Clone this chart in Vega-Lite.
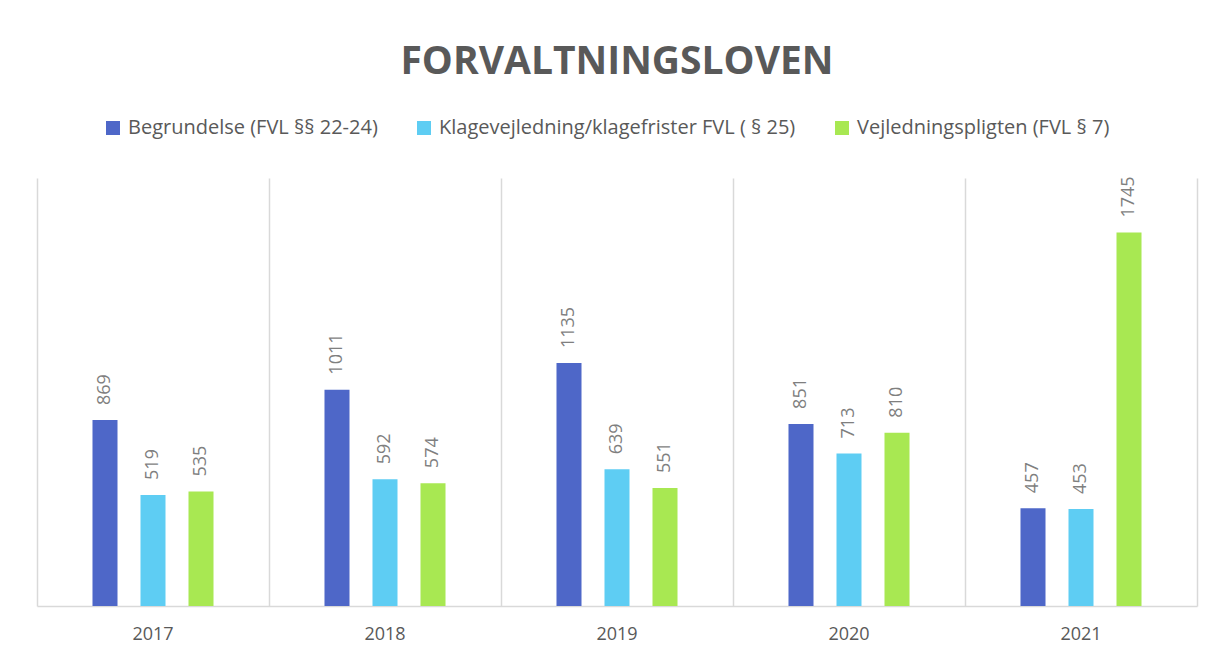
{
  "$schema": "https://vega.github.io/schema/vega-lite/v6.json",
  "width": 1160,
  "height": 428,
  "autosize": {"type": "none"},
  "padding": {"left": 37, "top": 178, "right": 19, "bottom": 51},
  "background": "white",
  "title": {
    "text": "FORVALTNINGSLOVEN",
    "anchor": "middle",
    "font": "Open Sans",
    "fontSize": 39,
    "fontWeight": "bold",
    "color": "#595959",
    "offset": 36
  },
  "data": {
    "values": [
      {"year": "2017", "serie": "Begrundelse (FVL §§ 22-24)", "value": 869},
      {"year": "2017", "serie": "Klagevejledning/klagefrister FVL ( § 25)", "value": 519},
      {"year": "2017", "serie": "Vejledningspligten (FVL § 7)", "value": 535},
      {"year": "2018", "serie": "Begrundelse (FVL §§ 22-24)", "value": 1011},
      {"year": "2018", "serie": "Klagevejledning/klagefrister FVL ( § 25)", "value": 592},
      {"year": "2018", "serie": "Vejledningspligten (FVL § 7)", "value": 574},
      {"year": "2019", "serie": "Begrundelse (FVL §§ 22-24)", "value": 1135},
      {"year": "2019", "serie": "Klagevejledning/klagefrister FVL ( § 25)", "value": 639},
      {"year": "2019", "serie": "Vejledningspligten (FVL § 7)", "value": 551},
      {"year": "2020", "serie": "Begrundelse (FVL §§ 22-24)", "value": 851},
      {"year": "2020", "serie": "Klagevejledning/klagefrister FVL ( § 25)", "value": 713},
      {"year": "2020", "serie": "Vejledningspligten (FVL § 7)", "value": 810},
      {"year": "2021", "serie": "Begrundelse (FVL §§ 22-24)", "value": 457},
      {"year": "2021", "serie": "Klagevejledning/klagefrister FVL ( § 25)", "value": 453},
      {"year": "2021", "serie": "Vejledningspligten (FVL § 7)", "value": 1745}
    ]
  },
  "encoding": {
    "x": {
      "field": "year",
      "type": "nominal",
      "scale": {"paddingInner": 0, "paddingOuter": 0},
      "axis": {
        "title": null,
        "labelAngle": 0,
        "labelFont": "Open Sans",
        "labelFontSize": 18,
        "labelColor": "#595959",
        "labelPadding": 19,
        "ticks": false,
        "domain": true,
        "domainColor": "#d9d9d9",
        "domainWidth": 1.5,
        "grid": true,
        "gridColor": "#d9d9d9",
        "gridWidth": 1.5,
        "bandPosition": 0
      }
    },
    "xOffset": {
      "field": "serie",
      "type": "nominal",
      "scale": {
        "domain": ["_pre", "Begrundelse (FVL §§ 22-24)", "Klagevejledning/klagefrister FVL ( § 25)", "Vejledningspligten (FVL § 7)", "_post"],
        "paddingInner": 0.479,
        "paddingOuter": 0.156
      }
    },
    "y": {
      "field": "value",
      "type": "quantitative",
      "scale": {"domain": [0, 2000], "nice": false}
    }
  },
  "layer": [
    {
      "mark": {"type": "bar"},
      "encoding": {
        "y": {
          "field": "value",
          "type": "quantitative",
          "scale": {"domain": [0, 2000], "nice": false},
          "axis": null
        },
        "color": {
          "field": "serie",
          "type": "nominal",
          "scale": {
            "domain": ["Begrundelse (FVL §§ 22-24)", "Klagevejledning/klagefrister FVL ( § 25)", "Vejledningspligten (FVL § 7)"],
            "range": ["#4e67c8", "#5ecdf3", "#a8e852"]
          },
          "legend": {
            "title": null,
            "orient": "none",
            "direction": "horizontal",
            "legendX": 66,
            "legendY": -60,
            "padding": 0,
            "symbolType": "square",
            "symbolSize": 196,
            "symbolStrokeWidth": 0,
            "symbolOpacity": 1,
            "labelFont": "Open Sans",
            "labelFontSize": 20,
            "labelColor": "#595959",
            "labelOffset": 5,
            "columnPadding": 36,
            "labelLimit": 600
          }
        }
      }
    },
    {
      "mark": {
        "type": "text",
        "angle": 270,
        "align": "left",
        "baseline": "middle",
        "dx": 15,
        "font": "Open Sans",
        "fontSize": 18,
        "color": "#7f7f7f"
      },
      "encoding": {
        "y": {
          "field": "value",
          "type": "quantitative",
          "scale": {"domain": [0, 2000], "nice": false},
          "axis": {
            "orient": "right",
            "title": null,
            "labels": false,
            "ticks": false,
            "grid": false,
            "domain": true,
            "domainColor": "#d9d9d9",
            "domainWidth": 1.5
          }
        },
        "text": {"field": "value", "type": "quantitative"}
      }
    }
  ],
  "resolve": {"axis": {"y": "independent"}},
  "config": {"view": {"stroke": null}}
}
